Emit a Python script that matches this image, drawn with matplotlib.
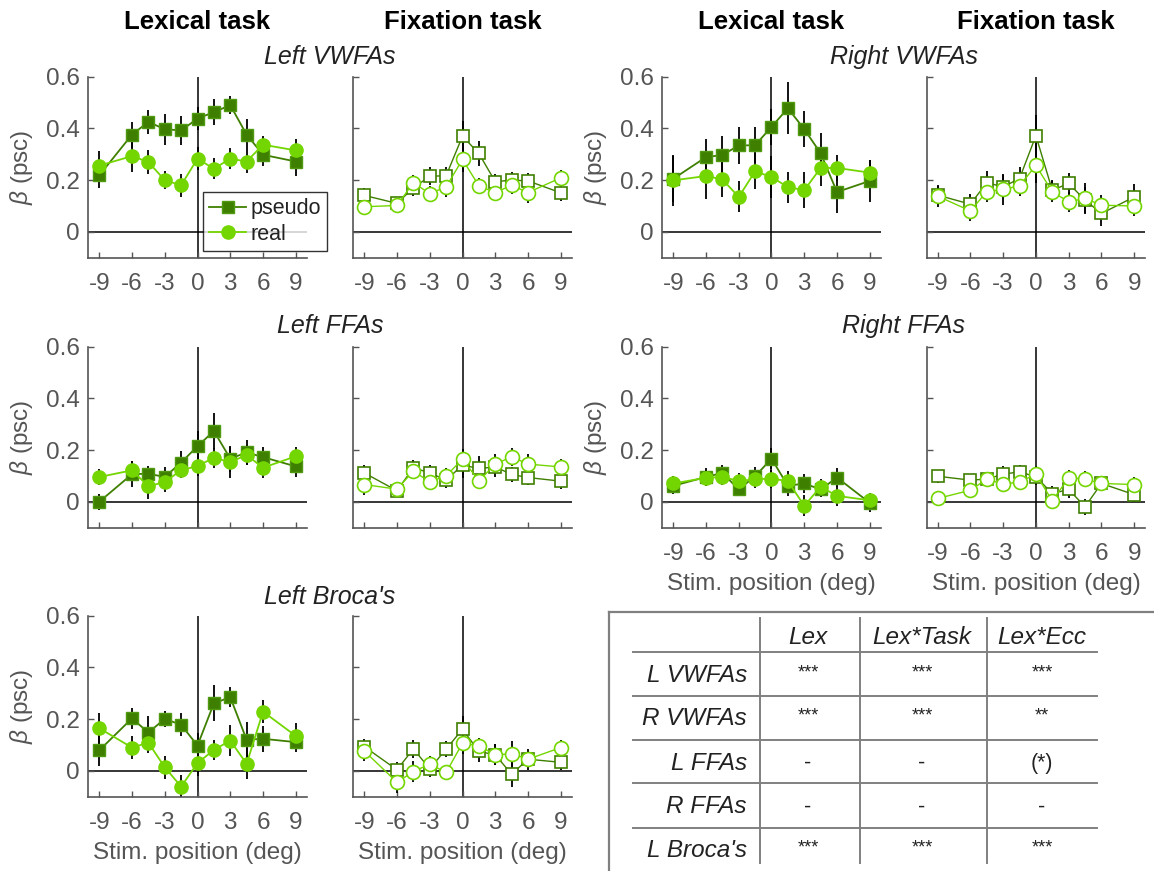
import numpy as np
import matplotlib
matplotlib.use("Agg")
import matplotlib.pyplot as plt

plt.rcParams['font.family'] = ['Liberation Sans', 'DejaVu Sans']
plt.rcParams['mathtext.fontset'] = 'custom'
plt.rcParams['mathtext.it'] = 'Liberation Sans:italic'
plt.rcParams['mathtext.rm'] = 'Liberation Sans'
plt.rcParams['axes.unicode_minus'] = False

# stimulus positions (deg)
ecc = [-9, -6, -4.5, -3, -1.5, 0, 1.5, 3, 4.5, 6, 9]

# beta values (psc) per ROI / task / lexicality
lvwfa_lex_pseudo = [0.218, 0.376, 0.425, 0.397, 0.392, 0.438, 0.463, 0.49, 0.376, 0.298, 0.272]
lvwfa_lex_pseudo_err = [0.05, 0.05, 0.045, 0.06, 0.055, 0.045, 0.05, 0.035, 0.06, 0.045, 0.055]
lvwfa_lex_real = [0.256, 0.293, 0.27, 0.20, 0.18, 0.283, 0.244, 0.283, 0.272, 0.337, 0.315]
lvwfa_lex_real_err = [0.055, 0.06, 0.045, 0.035, 0.045, 0.045, 0.04, 0.04, 0.045, 0.035, 0.045]
lvwfa_fix_pseudo = [0.141, 0.11, 0.17, 0.215, 0.217, 0.37, 0.303, 0.194, 0.2, 0.197, 0.151]
lvwfa_fix_pseudo_err = [0.03, 0.02, 0.03, 0.035, 0.035, 0.06, 0.05, 0.03, 0.03, 0.03, 0.03]
lvwfa_fix_real = [0.097, 0.102, 0.19, 0.148, 0.174, 0.28, 0.178, 0.152, 0.18, 0.152, 0.209]
lvwfa_fix_real_err = [0.03, 0.02, 0.03, 0.03, 0.04, 0.05, 0.03, 0.03, 0.035, 0.04, 0.03]

rvwfa_lex_pseudo = [0.205, 0.289, 0.297, 0.334, 0.335, 0.406, 0.478, 0.397, 0.304, 0.154, 0.197]
rvwfa_lex_pseudo_err = [0.09, 0.07, 0.075, 0.07, 0.07, 0.07, 0.1, 0.07, 0.08, 0.08, 0.08]
rvwfa_lex_real = [0.199, 0.216, 0.203, 0.135, 0.234, 0.212, 0.173, 0.161, 0.247, 0.247, 0.229]
rvwfa_lex_real_err = [0.1, 0.09, 0.07, 0.06, 0.07, 0.08, 0.06, 0.07, 0.07, 0.05, 0.05]
rvwfa_fix_pseudo = [0.142, 0.107, 0.19, 0.174, 0.206, 0.372, 0.161, 0.187, 0.123, 0.071, 0.135]
rvwfa_fix_pseudo_err = [0.04, 0.04, 0.045, 0.045, 0.045, 0.08, 0.04, 0.04, 0.05, 0.05, 0.05]
rvwfa_fix_real = [0.138, 0.081, 0.155, 0.164, 0.178, 0.257, 0.155, 0.116, 0.129, 0.103, 0.10]
rvwfa_fix_real_err = [0.04, 0.04, 0.04, 0.06, 0.04, 0.07, 0.04, 0.04, 0.06, 0.04, 0.04]

lffa_lex_pseudo = [0.0, 0.107, 0.109, 0.096, 0.152, 0.215, 0.274, 0.167, 0.191, 0.173, 0.137]
lffa_lex_pseudo_err = [0.03, 0.05, 0.03, 0.04, 0.045, 0.06, 0.07, 0.05, 0.05, 0.04, 0.04]
lffa_lex_real = [0.096, 0.122, 0.06, 0.077, 0.122, 0.139, 0.17, 0.154, 0.181, 0.132, 0.176]
lffa_lex_real_err = [0.03, 0.035, 0.05, 0.04, 0.03, 0.04, 0.04, 0.06, 0.04, 0.04, 0.035]
lffa_fix_pseudo = [0.112, 0.043, 0.132, 0.112, 0.084, 0.142, 0.129, 0.135, 0.106, 0.094, 0.08]
lffa_fix_pseudo_err = [0.03, 0.02, 0.03, 0.03, 0.03, 0.05, 0.05, 0.04, 0.03, 0.03, 0.03]
lffa_fix_real = [0.067, 0.049, 0.119, 0.077, 0.101, 0.165, 0.081, 0.146, 0.174, 0.146, 0.135]
lffa_fix_real_err = [0.04, 0.02, 0.03, 0.03, 0.03, 0.04, 0.03, 0.04, 0.035, 0.04, 0.03]

rffa_lex_pseudo = [0.062, 0.096, 0.112, 0.048, 0.099, 0.167, 0.062, 0.071, 0.048, 0.094, -0.004]
rffa_lex_pseudo_err = [0.03, 0.035, 0.03, 0.025, 0.035, 0.04, 0.04, 0.035, 0.03, 0.035, 0.035]
rffa_lex_real = [0.071, 0.093, 0.096, 0.081, 0.087, 0.09, 0.08, -0.015, 0.058, 0.023, 0.006]
rffa_lex_real_err = [0.03, 0.03, 0.03, 0.03, 0.035, 0.035, 0.04, 0.04, 0.03, 0.04, 0.03]
rffa_fix_pseudo = [0.099, 0.084, 0.088, 0.107, 0.116, 0.097, 0.032, 0.048, -0.019, 0.071, 0.028]
rffa_fix_pseudo_err = [0.025, 0.02, 0.025, 0.03, 0.025, 0.03, 0.03, 0.035, 0.03, 0.03, 0.03]
rffa_fix_real = [0.013, 0.045, 0.088, 0.068, 0.077, 0.107, 0.004, 0.093, 0.088, 0.071, 0.067]
rffa_fix_real_err = [0.03, 0.025, 0.025, 0.03, 0.03, 0.03, 0.03, 0.03, 0.03, 0.03, 0.03]

lbroca_lex_pseudo = [0.079, 0.203, 0.148, 0.201, 0.178, 0.098, 0.261, 0.285, 0.12, 0.124, 0.111]
lbroca_lex_pseudo_err = [0.06, 0.04, 0.065, 0.03, 0.045, 0.05, 0.07, 0.04, 0.07, 0.05, 0.04]
lbroca_lex_real = [0.165, 0.09, 0.109, 0.014, -0.061, 0.03, 0.081, 0.117, 0.027, 0.229, 0.135]
lbroca_lex_real_err = [0.06, 0.045, 0.04, 0.045, 0.045, 0.05, 0.04, 0.06, 0.06, 0.045, 0.05]
lbroca_fix_pseudo = [0.094, 0.004, 0.085, 0.008, 0.084, 0.161, 0.075, 0.062, -0.013, 0.045, 0.033]
lbroca_fix_pseudo_err = [0.03, 0.03, 0.035, 0.03, 0.03, 0.05, 0.04, 0.04, 0.05, 0.04, 0.03]
lbroca_fix_real = [0.077, -0.044, -0.003, 0.026, -0.006, 0.107, 0.097, 0.062, 0.066, 0.045, 0.09]
lbroca_fix_real_err = [0.04, 0.04, 0.04, 0.03, 0.03, 0.04, 0.03, 0.04, 0.05, 0.03, 0.03]

roi_titles = ["Left VWFAs", "Right VWFAs", "Left FFAs", "Right FFAs", "Left Broca's"]
task_titles = ["Lexical task", "Fixation task"]
yticks = [0, 0.2, 0.4, 0.6]
ytick_labels = ["0", "0.2", "0.4", "0.6"]
xticks = [-9, -6, -3, 0, 3, 6, 9]

table_cols = ["Lex", "Lex*Task", "Lex*Ecc"]
table_rows = ["L VWFAs", "R VWFAs", "L FFAs", "R FFAs", "L Broca's"]
table_cells = [["***", "***", "***"],
               ["***", "***", "**"],
               ["-", "-", "(*)"],
               ["-", "-", "-"],
               ["***", "***", "***"]]

C_PSEUDO = "#3F7F00"
C_REAL = "#74D600"
GRAY = "#555555"
FS = 17.5

W, H = 1154, 871
fig = plt.figure(figsize=(W / 100, H / 100), dpi=100)

col_left = [88.3, 353.3, 662.3, 926.7]
row_bottom = [257.7, 527.7, 796.7]
ax_w, ax_h = 218.4, 181.0


def make_ax(col, row):
    l = col_left[col] / W
    b = 1 - row_bottom[row] / H
    return fig.add_axes([l, b, ax_w / W, ax_h / H])


def draw_panel(ax, pseudo, pseudo_err, real, real_err, lexical, ylabels, xlabels):
    ax.axhline(0, color="black", lw=1.1, zorder=1)
    ax.axvline(0, color="black", lw=1.1, zorder=1)
    ax.errorbar(ecc, pseudo, yerr=pseudo_err, fmt="none", ecolor="black", elinewidth=1.3, zorder=2)
    ax.errorbar(ecc, real, yerr=real_err, fmt="none", ecolor="black", elinewidth=1.3, zorder=2)
    if lexical:
        ax.plot(ecc, pseudo, "-s", color=C_PSEUDO, mfc=C_PSEUDO, mec="#4F9A10", ms=8.5, lw=1.3,
                label="pseudo", zorder=3)
        ax.plot(ecc, real, "-o", color=C_REAL, mfc=C_REAL, mec=C_REAL, ms=9.5, lw=1.3,
                label="real", zorder=4)
    else:
        ax.plot(ecc, pseudo, "-s", color=C_PSEUDO, mfc="white", mec=C_PSEUDO, ms=9, lw=1.0,
                mew=1.2, zorder=3)
        ax.plot(ecc, real, "-o", color=C_REAL, mfc="white", mec=C_REAL, ms=10, lw=1.0,
                mew=1.2, zorder=4)
    ax.set_xlim(-10, 10)
    ax.set_ylim(-0.1, 0.6)
    ax.set_xticks(xticks)
    ax.set_yticks(yticks)
    ax.set_yticklabels(ytick_labels if ylabels else [])
    if not xlabels:
        ax.set_xticklabels([])
    for s in ["top", "right"]:
        ax.spines[s].set_visible(False)
    for s in ["left", "bottom"]:
        ax.spines[s].set_color(GRAY)
        ax.spines[s].set_linewidth(1.2)
    ax.tick_params(direction="in", length=4, width=1, colors=GRAY, labelsize=FS,
                   labelcolor=GRAY)
    ax.tick_params(axis="x", pad=11)
    ax.tick_params(axis="y", pad=6)
    if ylabels:
        ax.set_ylabel(r"$\it{\beta}$ (psc)", fontsize=FS, color=GRAY, labelpad=8)


panels = [
    (0, 0, 0, lvwfa_lex_pseudo, lvwfa_lex_pseudo_err, lvwfa_lex_real, lvwfa_lex_real_err, True, True),
    (1, 0, 0, lvwfa_fix_pseudo, lvwfa_fix_pseudo_err, lvwfa_fix_real, lvwfa_fix_real_err, False, True),
    (2, 0, 1, rvwfa_lex_pseudo, rvwfa_lex_pseudo_err, rvwfa_lex_real, rvwfa_lex_real_err, True, True),
    (3, 0, 1, rvwfa_fix_pseudo, rvwfa_fix_pseudo_err, rvwfa_fix_real, rvwfa_fix_real_err, False, True),
    (0, 1, 2, lffa_lex_pseudo, lffa_lex_pseudo_err, lffa_lex_real, lffa_lex_real_err, True, False),
    (1, 1, 2, lffa_fix_pseudo, lffa_fix_pseudo_err, lffa_fix_real, lffa_fix_real_err, False, False),
    (2, 1, 3, rffa_lex_pseudo, rffa_lex_pseudo_err, rffa_lex_real, rffa_lex_real_err, True, True),
    (3, 1, 3, rffa_fix_pseudo, rffa_fix_pseudo_err, rffa_fix_real, rffa_fix_real_err, False, True),
    (0, 2, 4, lbroca_lex_pseudo, lbroca_lex_pseudo_err, lbroca_lex_real, lbroca_lex_real_err, True, True),
    (1, 2, 4, lbroca_fix_pseudo, lbroca_fix_pseudo_err, lbroca_fix_real, lbroca_fix_real_err, False, True),
]

axes = {}
for col, row, roi, ps, pe, re_, rerr, lex, xl in panels:
    ax = make_ax(col, row)
    draw_panel(ax, ps, pe, re_, rerr, lex, col in (0, 2), xl)
    axes[(col, row)] = ax
    if (row == 1 and col >= 2) or row == 2:
        ax.set_xlabel("Stim. position (deg)", fontsize=FS, color=GRAY, labelpad=6)

# ROI titles centered over each lexical/fixation pair
title_y = [57, 326, 597]
title_pos = {0: (0, 0), 1: (2, 0), 2: (0, 1), 3: (2, 1), 4: (0, 2)}
for roi, (col, row) in title_pos.items():
    xc = (col_left[col] + col_left[col + 1] + ax_w) / 2
    fig.text(xc / W, 1 - title_y[row] / H, roi_titles[roi], fontsize=18, style="italic",
             ha="center", va="center", color="#222222")

# task headers
for col in range(4):
    xc = col_left[col] + ax_w / 2
    fig.text(xc / W, 1 - 22 / H, task_titles[col % 2], fontsize=18.5, fontweight="bold",
             ha="center", va="center")

# legend in first panel
leg = axes[(0, 0)].legend(loc="upper left", bbox_to_anchor=(203 / W, 1 - 192 / H),
                          bbox_transform=fig.transFigure, fontsize=15.5, frameon=True,
                          fancybox=False, handlelength=1.7, handletextpad=0.2,
                          borderpad=0.3, labelspacing=0.2, borderaxespad=0)
leg.get_frame().set_edgecolor("black")
leg.get_frame().set_linewidth(1.0)
for t in leg.get_texts():
    t.set_color("#222222")

# statistics table
tax = fig.add_axes([0, 0, 1, 1], zorder=-1)
tax.set_xlim(0, W)
tax.set_ylim(H, 0)
tax.axis("off")
tc = "#808080"
tax.plot([609, W], [611.7, 611.7], color=tc, lw=1.6)
tax.plot([609, 609], [611.7, H], color=tc, lw=1.6)
h_lines = [651.7, 696.3, 740, 783, 827.7]
for yl in h_lines:
    tax.plot([633, 1097], [yl, yl], color=tc, lw=1.4)
for xl in [760, 860, 986.7]:
    tax.plot([xl, xl], [618, 863], color=tc, lw=1.4)
col_cx = [808, 922, 1042]
for j, name in enumerate(table_cols):
    tax.text(col_cx[j], 637, name, fontsize=FS, style="italic", ha="center", va="center",
             color="#222222")
row_cy = [675, 718.3, 763.3, 806.7, 850]
for i, name in enumerate(table_rows):
    tax.text(747, row_cy[i], name, fontsize=FS, style="italic", ha="right", va="center",
             color="#222222")
    for j, v in enumerate(table_cells[i]):
        fs = 13 if "*" in v and v != "(*)" else 15.5
        tax.text(col_cx[j], row_cy[i] - (2 if v.startswith("*") else 0), v, fontsize=fs,
                 ha="center", va="center", color="#222222")

fig.savefig("out.png", dpi=100)
